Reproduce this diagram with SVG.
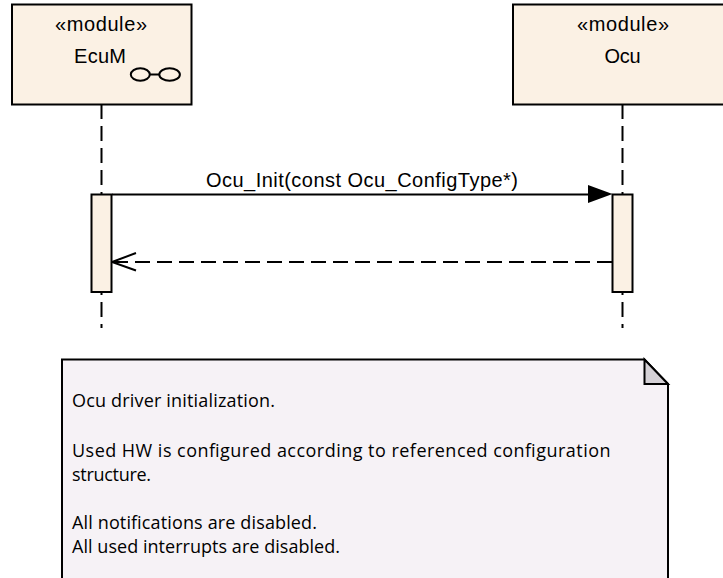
<svg xmlns="http://www.w3.org/2000/svg" width="723" height="578" viewBox="0 0 723 578">
<style>
.box{fill:#fbf1e4;stroke:#000;stroke-width:2}
.life{fill:none;stroke:#000;stroke-width:2;stroke-dasharray:15 7}
.t{font-family:"Liberation Sans",Arial,sans-serif;font-size:20px;fill:#000;text-anchor:middle}
.n{font-family:"Open Sans","Noto Sans",sans-serif;font-size:18px;fill:#000}
.line{fill:none;stroke:#000;stroke-width:2}
</style>
<rect width="723" height="578" fill="#fff"/>
<g id="connectors">
<path class="life" d="M101.500 104V328"/>
<path class="life" d="M622.500 104V328"/>
<path class="line" d="M112 194.500H590"/>
<path d="M588 185L612.500 194L588 203Z" fill="#000"/>
<path class="line" d="M612 262H114" stroke-dasharray="15 7"/>
<path class="line" d="M136 253L112 262L136 270.500"/>
</g>
<g id="EcuM">
<rect class="box" x="12" y="4.500" width="179.500" height="100"/>
<text class="t" x="101" y="31" textLength="92">«module»</text>
<text class="t" x="100" y="63" textLength="52">EcuM</text>
<ellipse class="line" cx="140.300" cy="74.500" rx="9.500" ry="6.300"/>
<ellipse class="line" cx="169.600" cy="74.500" rx="10.300" ry="6.300"/>
<path class="line" d="M150 74.500H159"/>
</g>
<g id="Ocu">
<rect class="box" x="513" y="4.500" width="218" height="100"/>
<text class="t" x="623" y="31" textLength="92">«module»</text>
<text class="t" x="622.500" y="63" textLength="36">Ocu</text>
</g>
<g id="EcuM_activation"><rect class="box" x="91.500" y="194.500" width="20" height="97.500"/></g>
<g id="Ocu_activation"><rect class="box" x="612.500" y="194.500" width="20" height="97.500"/></g>
<text class="t" x="362" y="187" textLength="312">Ocu_Init(const Ocu_ConfigType*)</text>
<g id="note">
<path d="M62 578V359.500H644.500L668 384V578" fill="#f6f2f6" stroke="#000" stroke-width="2"/>
<path d="M644.500 359.500V384H668Z" fill="#d5d1d6" stroke="#000" stroke-width="2"/>
<text class="n" x="72" y="407" textLength="203">Ocu driver initialization.</text>
<text class="n" x="72" y="457" textLength="538.500">Used HW is configured according to referenced configuration</text>
<text class="n" x="72" y="481" textLength="79">structure.</text>
<text class="n" x="72" y="529" textLength="245">All notifications are disabled.</text>
<text class="n" x="72" y="553" textLength="268">All used interrupts are disabled.</text>
</g>
</svg>
